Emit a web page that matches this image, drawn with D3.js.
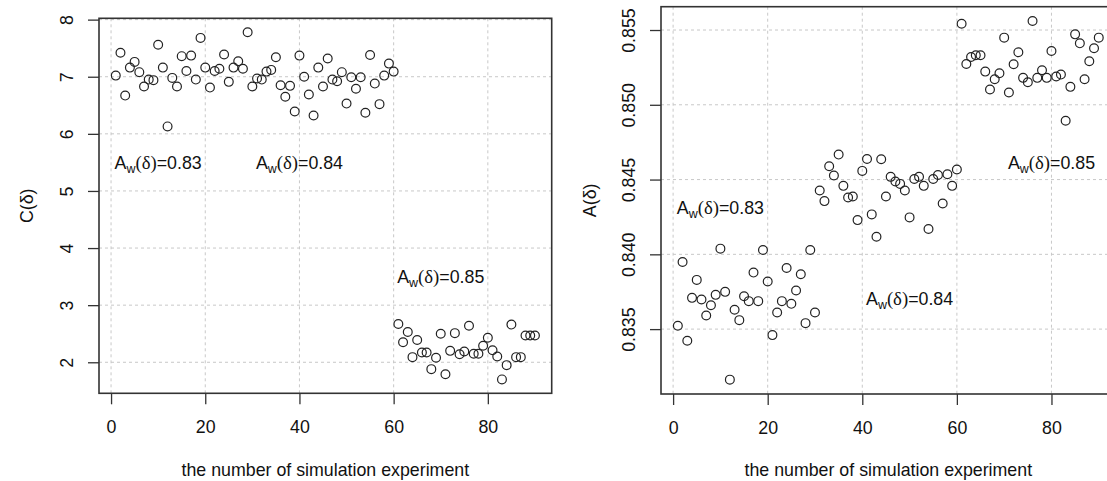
<!DOCTYPE html>
<html>
<head>
<meta charset="utf-8">
<script src="https://cdn.jsdelivr.net/npm/d3@7.9.0/dist/d3.min.js"></script>
<style>
  body { margin: 0; background: #fff; }
  svg { display: block; font-family: "Liberation Sans", Arial, sans-serif; }
</style>
</head>
<body>
<svg id="chart" width="1107" height="481"></svg>
<script>
// simulation experiment numbers 1..90
const runs = d3.range(1, 91);

// C(delta) per run, left panel
const cValues = [
  7.02, 7.42, 6.67, 7.16, 7.26, 7.08, 6.83, 6.95, 6.94, 7.56,
  7.16, 6.13, 6.98, 6.83, 7.36, 7.10, 7.37, 6.95, 7.68, 7.16,
  6.81, 7.10, 7.14, 7.39, 6.91, 7.16, 7.27, 7.14, 7.78, 6.83,
  6.97, 6.95, 7.09, 7.12, 7.34, 6.85, 6.65, 6.84, 6.39, 7.37,
  7.00, 6.69, 6.32, 7.16, 6.83, 7.32, 6.95, 6.92, 7.08, 6.53,
  6.99, 6.79, 6.99, 6.37, 7.38, 6.88, 6.52, 7.02, 7.23, 7.09,
  2.67, 2.35, 2.53, 2.09, 2.39, 2.17, 2.17, 1.88, 2.08, 2.50,
  1.79, 2.20, 2.51, 2.14, 2.19, 2.64, 2.15, 2.15, 2.29, 2.43,
  2.21, 2.10, 1.70, 1.95, 2.66, 2.09, 2.09, 2.47, 2.47, 2.47
];

// A(delta) per run, right panel
const aValues = [
  0.83522, 0.83949, 0.83422, 0.83709, 0.83829, 0.83698, 0.83591, 0.83660, 0.83729, 0.84038,
  0.83749, 0.83162, 0.83629, 0.83560, 0.83720, 0.83687, 0.83878, 0.83687, 0.84029, 0.83818,
  0.83460, 0.83611, 0.83687, 0.83909, 0.83669, 0.83758, 0.83867, 0.83540, 0.84029, 0.83611,
  0.84427, 0.84356, 0.84589, 0.84527, 0.84667, 0.84458, 0.84380, 0.84387, 0.84229, 0.84558,
  0.84638, 0.84267, 0.84118, 0.84636, 0.84387, 0.84518, 0.84487, 0.84471, 0.84427, 0.84247,
  0.84504, 0.84518, 0.84458, 0.84169, 0.84504, 0.84531, 0.84340, 0.84536, 0.84458, 0.84567,
  0.85542, 0.85273, 0.85320, 0.85331, 0.85331, 0.85222, 0.85102, 0.85171, 0.85211, 0.85449,
  0.85082, 0.85271, 0.85351, 0.85180, 0.85151, 0.85560, 0.85180, 0.85231, 0.85180, 0.85360,
  0.85189, 0.85202, 0.84893, 0.85120, 0.85471, 0.85411, 0.85171, 0.85291, 0.85378, 0.85449
];

const xTicks = [0, 20, 40, 60, 80];
const cTicks = [2, 3, 4, 5, 6, 7, 8];
const aTicks = [0.835, 0.840, 0.845, 0.850, 0.855];

// A_w(delta) annotations: [x, y, value label]
const cNotes = [[10, 5.5, "0.83"], [40, 5.5, "0.84"], [70, 3.5, "0.85"]];
const aNotes = [[10, 0.8431, "0.83"], [50, 0.8370, "0.84"], [80, 0.8461, "0.85"]];

const svg = d3.select("#chart");
const fs = 17.8;

// R style: pad data range by 4% each side
function padded(ext) {
  const d = (ext[1] - ext[0]) * 0.04;
  return [ext[0] - d, ext[1] + d];
}

function drawPanel(p) {
  const x = d3.scaleLinear().domain(padded(d3.extent(runs))).range([p.left, p.right]);
  const y = d3.scaleLinear().domain(padded(d3.extent(p.values))).range([p.bottom, p.top]);
  const g = svg.append("g");

  // dotted grid
  g.selectAll(".gx").data(xTicks).join("line")
    .attr("x1", d => x(d)).attr("x2", d => x(d))
    .attr("y1", p.top).attr("y2", p.bottom)
    .attr("stroke", "#c8c8c8").attr("stroke-dasharray", "3,3");
  g.selectAll(".gy").data(p.ticks).join("line")
    .attr("x1", p.left).attr("x2", p.right)
    .attr("y1", d => y(d)).attr("y2", d => y(d))
    .attr("stroke", "#c8c8c8").attr("stroke-dasharray", "3,3");

  // axes
  const ax = g.append("g").attr("transform", `translate(0,${p.bottom})`)
    .call(d3.axisBottom(x).tickValues(xTicks).tickSize(11).tickPadding(16));
  ax.select(".domain").remove();
  ax.selectAll("text").attr("font-size", fs).attr("fill", "#111")
    .attr("font-family", "Liberation Sans, Arial, sans-serif");
  ax.selectAll("line").attr("stroke", "#333").attr("stroke-width", 1.3);

  const ay = g.append("g").attr("transform", `translate(${p.left},0)`)
    .call(d3.axisLeft(y).tickValues(p.ticks).tickSize(11).tickFormat(p.fmt));
  ay.select(".domain").remove();
  ay.selectAll("line").attr("stroke", "#333").attr("stroke-width", 1.3);
  // rotated tick labels, as R does with las = 0
  ay.selectAll("text")
    .attr("font-size", fs).attr("fill", "#111")
    .attr("font-family", "Liberation Sans, Arial, sans-serif")
    .attr("text-anchor", "middle").attr("x", 0).attr("y", 0).attr("dy", "0.35em")
    .attr("transform", `translate(${p.tickLabelX - p.left},0) rotate(-90)`);

  // box
  g.append("rect")
    .attr("x", p.left).attr("y", p.top)
    .attr("width", p.right - p.left).attr("height", p.bottom - p.top)
    .attr("fill", "none").attr("stroke", "#333").attr("stroke-width", 1.6);

  // points
  g.selectAll("circle").data(runs).join("circle")
    .attr("cx", d => x(d)).attr("cy", (d, i) => y(p.values[i]))
    .attr("r", 4.4).attr("fill", "none")
    .attr("stroke", "#222").attr("stroke-width", 1.2);

  // annotations
  p.notes.forEach(([nx, ny, lab]) => {
    const t = g.append("text")
      .attr("x", x(nx)).attr("y", y(ny) + fs * 0.35)
      .attr("text-anchor", "middle").attr("font-size", fs).attr("fill", "#111");
    t.append("tspan").text("A");
    t.append("tspan").attr("font-size", fs * 0.7).attr("dy", 4).text("w");
    t.append("tspan").attr("dy", -4).attr("font-family", "Liberation Serif, Times New Roman, serif")
      .attr("font-size", fs * 1.05).text("(δ)");
    t.append("tspan").text("=" + lab);
  });

  // titles
  g.append("text")
    .attr("x", (p.left + p.right) / 2).attr("y", 476)
    .attr("text-anchor", "middle").attr("font-size", fs).attr("fill", "#111")
    .text("the number of simulation experiment");
  g.append("text")
    .attr("transform", `translate(${p.titleX},${(p.top + p.bottom) / 2}) rotate(-90)`)
    .attr("text-anchor", "middle").attr("font-size", fs).attr("fill", "#111")
    .text(p.yTitle);
}

drawPanel({
  values: cValues, ticks: cTicks, notes: cNotes, fmt: d3.format("d"),
  left: 99, right: 551.7, top: 18.3, bottom: 393.3,
  tickLabelX: 67, titleX: 33, yTitle: "C(δ)"
});

drawPanel({
  values: aValues, ticks: aTicks, notes: aNotes, fmt: d3.format(".3f"),
  left: 661, right: 1115.6, top: 6.7, bottom: 394,
  tickLabelX: 629, titleX: 596, yTitle: "A(δ)"
});
</script>
</body>
</html>
